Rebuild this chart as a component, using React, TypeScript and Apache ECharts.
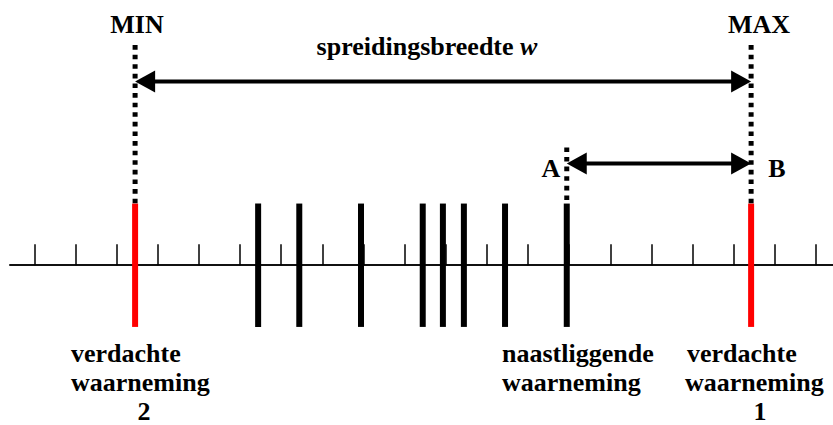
import React, { useEffect, useRef } from 'react';
import * as echarts from 'echarts';

// ---- data (axis units: one tick = 1) ----
const tickValues = [0, 1, 2, 3, 4, 5, 6, 7, 8, 9, 10, 11, 12, 13, 14, 15, 16, 17, 18, 19];
const observations = [5.44, 6.44, 7.94, 9.44, 9.93, 10.44, 11.44, 12.94];
const suspectObservations = [2.45, 17.42];
const minValue = suspectObservations[0];
const maxValue = suspectObservations[1];
const neighbourValue = observations[observations.length - 1];

const FONT = 'Liberation Serif';

export default function App() {
  const ref = useRef<HTMLDivElement>(null);

  useEffect(() => {
    if (!ref.current) return;
    const chart = echarts.init(ref.current, null, { renderer: 'svg' });

    const barData = [
      ...observations.map((v) => [v, 0]),
      ...suspectObservations.map((v) => [v, 1]),
    ];
    // guide lines: [x, bottom, top]
    const guideData = [
      [minValue, 1, 3.57],
      [maxValue, 1, 3.57],
      [neighbourValue, 1, 1.91],
    ];
    // arrows: [x0, x1, level]
    const arrowData = [
      [minValue, maxValue, 2.98],
      [neighbourValue, maxValue, 1.65],
    ];

    const textStyle = (text: string, x: number, y: number, align: string) => ({
      type: 'text',
      x,
      y,
      style: {
        text,
        fill: '#000',
        font: 'bold 26px ' + FONT,
        align,
        verticalAlign: 'middle',
      },
    });

    chart.setOption({
      animation: false,
      textStyle: { fontFamily: FONT },
      grid: { left: 10, right: 0, top: 0, bottom: 0 },
      xAxis: {
        type: 'value',
        min: -0.59,
        max: 19.41,
        axisLine: { show: true, onZero: true, lineStyle: { color: '#111', width: 2 } },
        axisTick: {
          show: true,
          inside: true,
          length: 21,
          customValues: tickValues,
          lineStyle: { color: '#000', width: 1.5 },
        },
        axisLabel: { show: false },
        splitLine: { show: false },
      },
      yAxis: {
        type: 'value',
        min: -2.59,
        max: 4.3,
        show: false,
        splitLine: { show: false },
      },
      series: [
        {
          type: 'custom',
          clip: false,
          data: barData,
          renderItem: (params: any, api: any) => {
            const x = api.value(0);
            const top = api.coord([x, 1]);
            const bot = api.coord([x, -1]);
            return {
              type: 'rect',
              shape: { x: top[0] - 3, y: top[1], width: 6, height: bot[1] - top[1] },
              style: { fill: api.value(1) === 1 ? '#ff0000' : '#000000' },
            };
          },
        },
        {
          type: 'custom',
          clip: false,
          data: guideData,
          renderItem: (params: any, api: any) => {
            const x = api.value(0);
            const bottom = api.coord([x, api.value(1)]);
            const top = api.coord([x, api.value(2)]);
            return {
              type: 'line',
              shape: { x1: top[0], y1: top[1], x2: bottom[0], y2: bottom[1] },
              style: { stroke: '#000', lineWidth: 5, lineDash: [4.6, 5] },
            };
          },
        },
        {
          type: 'custom',
          clip: false,
          data: arrowData,
          renderItem: (params: any, api: any) => {
            const p0 = api.coord([api.value(0), api.value(2)]);
            const p1 = api.coord([api.value(1), api.value(2)]);
            const headLen = 20;
            const half = 11;
            return {
              type: 'group',
              children: [
                {
                  type: 'line',
                  shape: { x1: p0[0] + headLen - 2, y1: p0[1], x2: p1[0] - headLen + 2, y2: p1[1] },
                  style: { stroke: '#000', lineWidth: 4 },
                },
                {
                  type: 'polygon',
                  shape: {
                    points: [
                      [p0[0], p0[1]],
                      [p0[0] + headLen, p0[1] - half],
                      [p0[0] + headLen, p0[1] + half],
                    ],
                  },
                  style: { fill: '#000' },
                },
                {
                  type: 'polygon',
                  shape: {
                    points: [
                      [p1[0], p1[1]],
                      [p1[0] - headLen, p1[1] - half],
                      [p1[0] - headLen, p1[1] + half],
                    ],
                  },
                  style: { fill: '#000' },
                },
              ],
            };
          },
        },
      ],
      graphic: [
        textStyle('MIN', 137, 24, 'center'),
        textStyle('MAX', 759, 24, 'center'),
        {
          type: 'text',
          x: 427,
          y: 46,
          style: {
            text: 'spreidingsbreedte {i|w}',
            fill: '#000',
            font: 'bold 26px ' + FONT,
            align: 'center',
            verticalAlign: 'middle',
            rich: {
              i: {
                fontFamily: FONT,
                fontWeight: 'bold',
                fontStyle: 'italic',
                fontSize: 26,
                fill: '#000',
              },
            },
          },
        },
        textStyle('A', 551, 168, 'center'),
        textStyle('B', 777, 168, 'center'),
        textStyle('verdachte', 71, 353, 'left'),
        textStyle('waarneming', 71, 382, 'left'),
        textStyle('2', 144, 411, 'center'),
        textStyle('naastliggende', 502, 353, 'left'),
        textStyle('waarneming', 502, 382, 'left'),
        textStyle('verdachte', 687, 353, 'left'),
        textStyle('waarneming', 685, 382, 'left'),
        textStyle('1', 760, 411, 'center'),
      ],
    });

    return () => chart.dispose();
  }, []);

  return (
    <div
      ref={ref}
      style={{ position: 'absolute', left: 0, top: 0, width: 833, height: 425, background: '#fff' }}
    />
  );
}
